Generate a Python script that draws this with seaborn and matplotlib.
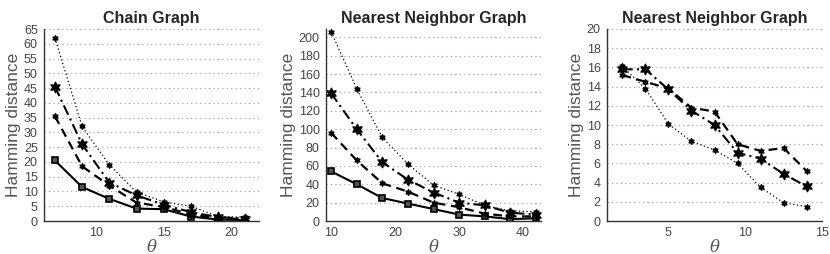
import numpy as np
import pandas as pd
import matplotlib
matplotlib.use("Agg")
import matplotlib.pyplot as plt
from matplotlib.ticker import MultipleLocator
import seaborn as sns

# chain graph values
chain_theta = [7, 9, 11, 13, 15, 17, 19, 21]
chain_a = [20.5, 11.5, 7.5, 4.2, 4.0, 1.5, 0.5, 0.3]
chain_b = [35.5, 18.5, 12.0, 6.2, 4.8, 2.2, 1.0, 0.6]
chain_c = [45.5, 26.0, 13.0, 8.7, 5.5, 3.0, 1.3, 0.8]
chain_d = [62.0, 32.0, 19.0, 9.8, 6.5, 5.0, 1.5, 1.3]

# nearest neighbor graph values
nn_theta = [10, 14, 18, 22, 26, 30, 34, 38, 42]
nn_a = [54, 40, 25, 19, 13, 7, 5, 2, 3]
nn_b = [96, 66, 41, 32, 20, 15, 8, 5, 5]
nn_c = [139, 100, 64, 45, 31, 20, 17, 9, 7]
nn_d = [206, 144, 91, 62, 39, 29, 17, 11, 10]

# nearest neighbor graph, second experiment
nn2_theta = [2, 3.5, 5, 6.5, 8, 9.5, 11, 12.5, 14]
nn2_b = [15.2, 14.5, 13.8, 11.8, 11.4, 8.0, 7.3, 7.6, 5.2]
nn2_c = [15.8, 15.8, 13.7, 11.5, 10.0, 7.1, 6.5, 4.9, 3.6]
nn2_d = [16.1, 13.8, 10.1, 8.3, 7.4, 6.0, 3.5, 1.9, 1.5]

sns.set_style("white")
plt.rcParams["font.family"] = ["Liberation Sans", "DejaVu Sans"]
plt.rcParams["mathtext.fontset"] = "dejavuserif"

styles = {
    "a": dict(linestyle="-", marker="s", markersize=4, linewidth=1.5,
              markerfacecolor="#555555", markeredgecolor="black", markeredgewidth=1.2),
    "b": dict(linestyle=(0, (4, 2.5)), marker=(6, 1, 0), markersize=4.5, linewidth=1.6,
              markeredgecolor="black", markeredgewidth=0.8),
    "c": dict(linestyle=(0, (5, 2, 1, 2)), marker=(6, 1, 0), markersize=8, linewidth=1.5,
              markeredgecolor="black", markeredgewidth=0.8),
    "d": dict(linestyle=(0, (1, 2)), marker=(6, 1, 0), markersize=4.5, linewidth=0.9,
              markeredgecolor="black", markeredgewidth=0.8),
}

panels = [
    ("Chain Graph", chain_theta, {"a": chain_a, "b": chain_b, "c": chain_c, "d": chain_d},
     (6.2, 22), (0, 65), 5, 1, 5),
    ("Nearest Neighbor Graph", nn_theta, {"a": nn_a, "b": nn_b, "c": nn_c, "d": nn_d},
     (9.2, 42.8), (0, 209), 10, 2, 20),
    ("Nearest Neighbor Graph", nn2_theta, {"b": nn2_b, "c": nn2_c, "d": nn2_d},
     (1, 15), (0, 20), 5, 0.5, 2),
]

fig = plt.figure(figsize=(8.3, 2.54), dpi=100)
lefts = [44 / 830, 326 / 830, 607 / 830]
for left, (title, theta, series, xlim, ylim, xmaj, xmin, ymaj) in zip(lefts, panels):
    ax = fig.add_axes([left, 33 / 254, 215 / 830, 192 / 254])
    for key, vals in series.items():
        df = pd.DataFrame({"theta": theta, "dist": vals})
        sns.lineplot(data=df, x="theta", y="dist", ax=ax, color="black", **styles[key])
    ax.set_xlim(*xlim)
    ax.set_ylim(*ylim)
    ax.xaxis.set_major_locator(MultipleLocator(xmaj))
    ax.xaxis.set_minor_locator(MultipleLocator(xmin))
    ax.yaxis.set_major_locator(MultipleLocator(ymaj))
    ax.yaxis.set_minor_locator(MultipleLocator(ymaj / 5))
    ax.grid(axis="y", which="major", linestyle=(0, (1, 3)), color="#9a9a9a", linewidth=0.8)
    ax.set_axisbelow(True)
    for side in ["top", "right"]:
        ax.spines[side].set_visible(False)
    for side in ["left", "bottom"]:
        ax.spines[side].set_color("#333333")
        ax.spines[side].set_linewidth(1.0)
    ax.tick_params(which="major", direction="out", length=3, width=0.8,
                   labelsize=9, labelcolor="#444444", color="#333333", pad=1.5)
    ax.tick_params(which="minor", direction="out", length=2, width=0.6, color="#333333")
    ax.set_title(title, fontsize=11.5, fontweight="bold", pad=4)
    ax.set_xlabel(r"$\theta$", fontsize=12, color="#555555", labelpad=-1)
    ax.set_ylabel("Hamming distance", fontsize=12.5, color="#555555", labelpad=2)

fig.savefig("out.png", dpi=100)
